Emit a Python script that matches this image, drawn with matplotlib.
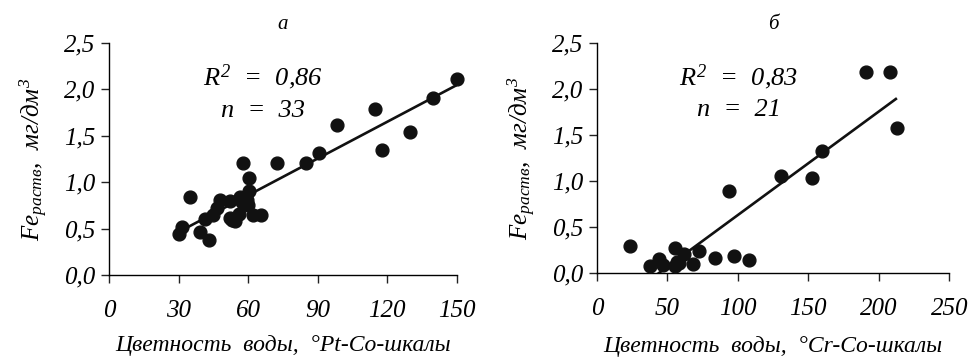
import numpy as np
import matplotlib
matplotlib.use('Agg')
from matplotlib import pyplot as plt

plt.rcParams['font.family'] = ['Liberation Serif', 'DejaVu Serif']
plt.rcParams['font.style'] = 'italic'
plt.rcParams['mathtext.fontset'] = 'custom'
plt.rcParams['mathtext.rm'] = 'Liberation Serif:italic'
plt.rcParams['mathtext.it'] = 'Liberation Serif:italic'

# panel a: Pt-Co scale
color_a = [30.2, 31.3, 35.1, 39.4, 41.4, 43.3, 44.7, 46.4, 47.7, 52.2, 52.0,
           53.2, 54.4, 56.1, 56.5, 58.0, 58.7, 59.7, 60.0, 60.3, 60.5, 62.3,
           65.7, 72.3, 84.8, 90.6, 98.5, 114.8, 117.9, 129.9, 139.6, 150.3, 57.2]
fe_a = [0.44, 0.52, 0.84, 0.46, 0.60, 0.38, 0.65, 0.72, 0.81, 0.80, 0.61,
        0.59, 0.58, 0.66, 0.84, 1.20, 0.77, 0.81, 0.75, 1.04, 0.90, 0.65,
        0.65, 1.20, 1.20, 1.31, 1.61, 1.79, 1.35, 1.54, 1.91, 2.11, 0.79]
trend_a = [0.01318, 0.067]      # slope, intercept
trend_a_x = [31.3, 149.7]

# panel b: Cr-Co scale
color_b = [23.7, 37.8, 44.2, 46.6, 55.6, 55.6, 57.9, 62.0, 67.9, 72.1, 83.7,
           93.4, 97.0, 107.6, 130.3, 152.5, 159.4, 190.9, 208.1, 212.6, 56.5]
fe_b = [0.30, 0.08, 0.15, 0.09, 0.27, 0.08, 0.11, 0.21, 0.10, 0.24, 0.17,
        0.89, 0.19, 0.14, 1.05, 1.03, 1.33, 2.18, 2.18, 1.58, 0.12]
trend_b = [0.01122, -0.49]
trend_b_x = [41.9, 212.1]

panels = [
    dict(x=color_a, y=fe_a, trend=trend_a, tx=trend_a_x, xmax=150, xstep=30,
         title='а', r2='0,86', n='33', txt_x=66.5, xpad=9,
         xlabel='Цветность  воды,  °Pt-Co-шкалы',
         rect=[0.1121, 0.2424, 0.3578, 0.640]),
    dict(x=color_b, y=fe_b, trend=trend_b, tx=trend_b_x, xmax=250, xstep=50,
         title='б', r2='0,83', n='21', txt_x=100.7, xpad=11,
         xlabel='Цветность  воды,  °Cr-Co-шкалы',
         rect=[0.6142, 0.2471, 0.3624, 0.6353]),
]

fig = plt.figure(figsize=(9.72, 3.63), dpi=100)

for p in panels:
    ax = fig.add_axes(p['rect'])
    ax.scatter(p['x'], p['y'], s=85, color='#111111', zorder=3, clip_on=False)
    tx = np.array(p['tx'])
    ax.plot(tx, p['trend'][0] * tx + p['trend'][1], color='#111111', lw=1.9)

    ax.set_xlim(0, p['xmax'])
    ax.set_ylim(0, 2.5)
    xt = np.arange(0, p['xmax'] + 1, p['xstep'])
    ax.set_xticks(xt)
    ax.set_xticklabels([str(v) for v in xt])
    yt = np.arange(0, 2.51, 0.5)
    ax.set_yticks(yt)
    ax.set_yticklabels([('%.1f' % v).replace('.', ',') for v in yt])
    ax.tick_params(labelsize=18, length=6, width=1, color='#222222')
    ax.tick_params(axis='x', pad=12)
    ax.tick_params(axis='y', pad=4)
    for s in ['top', 'right']:
        ax.spines[s].set_visible(False)
    for s in ['left', 'bottom']:
        ax.spines[s].set_linewidth(1.0)

    ax.set_xlabel(p['xlabel'], fontsize=17, labelpad=p['xpad'])
    ax.set_ylabel('$Fe_{раств}$,  $мг/дм^3$', fontsize=18, labelpad=10)
    ax.set_title(p['title'], fontsize=15, pad=10)

    ax.text(p['txt_x'], 2.13, '$R^2$  =  ' + p['r2'], fontsize=19,
            ha='center', va='center')
    ax.text(p['txt_x'], 1.77, 'n  =  ' + p['n'], fontsize=19,
            ha='center', va='center')

fig.savefig('out.png', dpi=100)
